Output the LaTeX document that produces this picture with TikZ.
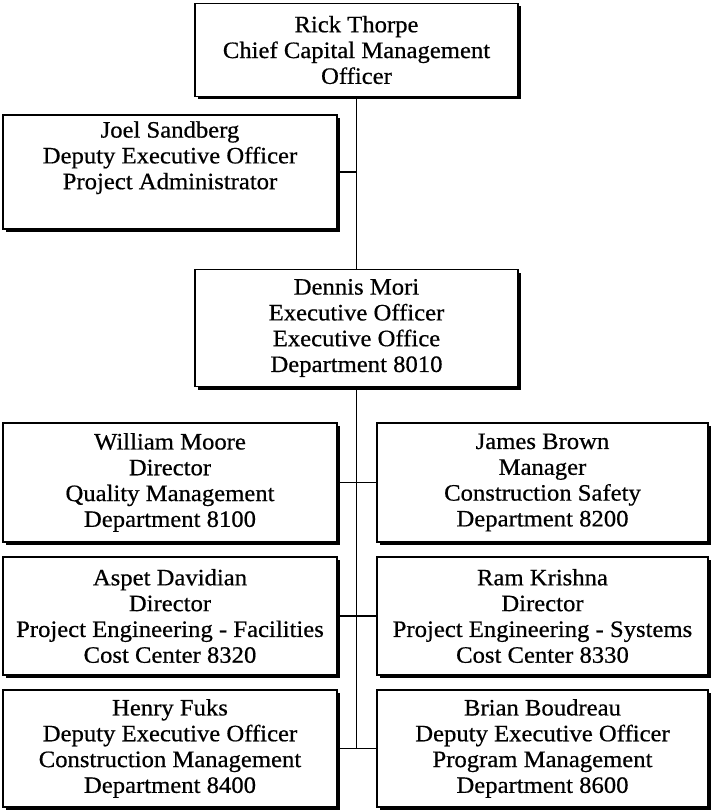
\documentclass[tikz,border=0pt]{standalone}
\usepackage{fontspec}
\setmainfont{Liberation Serif}[FakeBold=0.6, FakeStretch=1.05]
\usetikzlibrary{shadows}
\begin{document}
\begin{tikzpicture}[x=1pt,y=-1pt,
  box/.style={draw=black, line width=1.1pt, fill=white, align=center, inner sep=0pt,
    font=\fontsize{23.5}{25.8}\selectfont,
    drop shadow={shadow xshift=3pt, shadow yshift=-3pt, fill=black, opacity=1}},
  wbox/.style={box, minimum width=334pt},
  link/.style={line width=1.4pt}]
\useasboundingbox (0,0) rectangle (712,810);
\node[box, minimum width=323pt, minimum height=93pt] (rick) at (356.5,50) {Rick Thorpe\\Chief Capital Management\\Officer};
\node[wbox, minimum height=114pt] (joel) at (170,172) {Joel Sandberg\\Deputy Executive Officer\\Project Administrator\\\strut};
\node[box, minimum width=323pt, minimum height=117pt] (dennis) at (356.5,328) {Dennis Mori\\Executive Officer\\Executive Office\\Department 8010};
\node[wbox, minimum height=119pt] (william) at (170,482.5) {William Moore\\Director\\Quality Management\\Department 8100};
\node[box, minimum width=331pt, minimum height=119pt] (james) at (542.5,482.5) {James Brown\\Manager\\Construction Safety\\Department 8200};
\node[wbox, minimum height=118pt] (aspet) at (170,616) {Aspet Davidian\\Director\\Project Engineering - Facilities\\Cost Center 8320};
\node[box, minimum width=331pt, minimum height=118pt] (ram) at (542.5,616) {Ram Krishna\\Director\\Project Engineering - Systems\\Cost Center 8330};
\node[wbox, minimum height=117pt] (henry) at (170,748.5) {Henry Fuks\\Deputy Executive Officer\\Construction Management\\Department 8400};
\node[box, minimum width=331pt, minimum height=117pt] (brian) at (542.5,748.5) {Brian Boudreau\\Deputy Executive Officer\\Program Management\\Department 8600};
\coordinate (j1) at (rick.south |- joel.east);
\coordinate (bend) at (rick.south |- henry.east);
\draw[link] (rick.south) -- (dennis.north);
\draw[link] (joel.east) -- (j1);
\draw[link] (dennis.south) -- (bend);
\draw[link] (william.east) -- (james.west);
\draw[link] (aspet.east) -- (ram.west);
\draw[link] (henry.east) -- (brian.west);
\end{tikzpicture}
\end{document}
